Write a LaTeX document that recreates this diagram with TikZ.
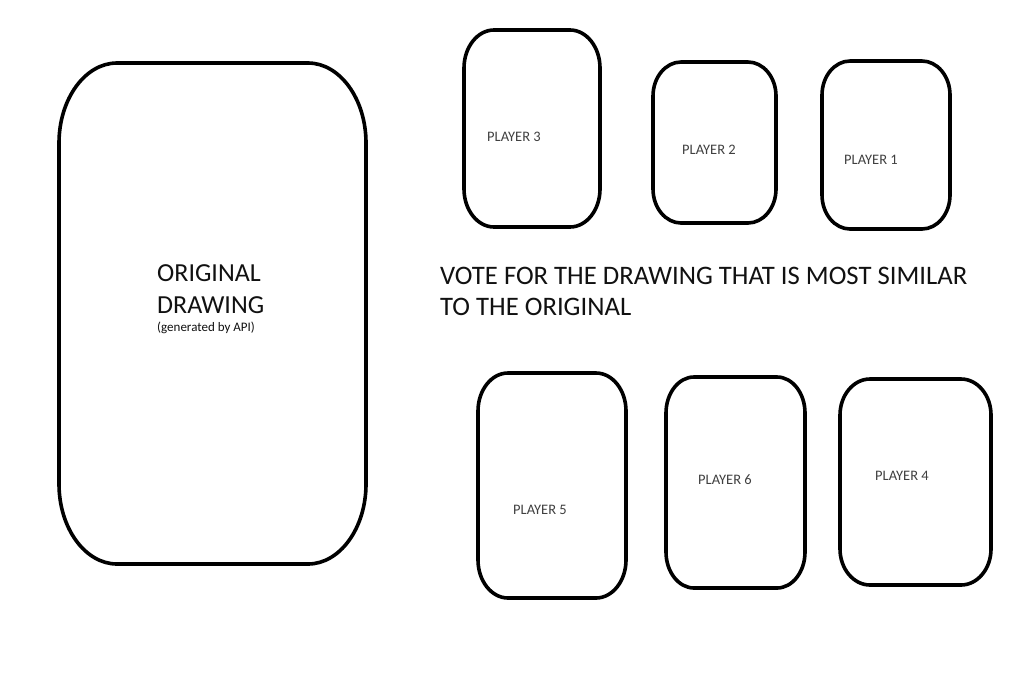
\documentclass[tikz,border=0pt]{standalone}
\usepackage{fontspec}
\setmainfont{Carlito}
\definecolor{labelgray}{HTML}{404040}
\definecolor{maintext}{HTML}{111111}
\tikzset{
  cardline/.style={line width=3.6pt, draw=black},
  bigtext/.style={font=\fontsize{26}{31}\selectfont, text=maintext, inner sep=0pt, anchor=base west},
  votetext/.style={font=\fontsize{26.7}{31}\selectfont, text=maintext, inner sep=0pt, anchor=base west},
  smalltext/.style={font=\fontsize{13}{15}\selectfont, text=maintext, inner sep=0pt, anchor=base west},
  playerlabel/.style={font=\fontsize{14.5}{16}\selectfont, text=labelgray, inner sep=0pt, anchor=base}
}
% card with elliptical corners: x1 y1 x2 y2 rx ry
\newcommand\cardbox[6]{%
  \draw[cardline] ({#1+#5},#2) -- ({#3-#5},#2)
    .. controls ({#3-0.45*#5},#2) and (#3,{#2+0.45*#6}) .. (#3,{#2+#6})
    -- (#3,{#4-#6})
    .. controls (#3,{#4-0.45*#6}) and ({#3-0.45*#5},#4) .. ({#3-#5},#4)
    -- ({#1+#5},#4)
    .. controls ({#1+0.45*#5},#4) and (#1,{#4-0.45*#6}) .. (#1,{#4-#6})
    -- (#1,{#2+#6})
    .. controls (#1,{#2+0.45*#6}) and ({#1+0.45*#5},#2) .. ({#1+#5},#2) -- cycle;}
\begin{document}
\begin{tikzpicture}[x=1pt,y=-1pt]
\useasboundingbox[fill=white] (0,0) rectangle (1016,689);
% original card
\cardbox{59}{63}{366}{564}{58}{80}
\node[bigtext] (orig1) at (157,281) {ORIGINAL};
\node[bigtext] (orig2) at (157,313) {DRAWING};
\node[smalltext] (orig3) at (157,331) {(generated by API)};
% player cards
\cardbox{464}{30}{600}{227}{30}{38}
\cardbox{653}{62}{776}{223}{28}{34}
\cardbox{822}{61}{950}{229}{28}{34}
\cardbox{478}{373}{626}{598}{30}{38}
\cardbox{666}{377}{805}{588}{28}{36}
\cardbox{840}{379}{991}{585}{30}{36}
\node[playerlabel] (p3) at (514,141) {PLAYER 3};
\node[playerlabel] (p2) at (709,154) {PLAYER 2};
\node[playerlabel] (p1) at (871,164) {PLAYER 1};
\node[playerlabel] (p5) at (540,514) {PLAYER 5};
\node[playerlabel] (p6) at (725,484) {PLAYER 6};
\node[playerlabel] (p4) at (902,480) {PLAYER 4};
% instruction
\node[votetext] (vote1) at (440,284) {VOTE FOR THE DRAWING THAT IS MOST SIMILAR};
\node[votetext] (vote2) at (440,315) {TO THE ORIGINAL};
\end{tikzpicture}
\end{document}
